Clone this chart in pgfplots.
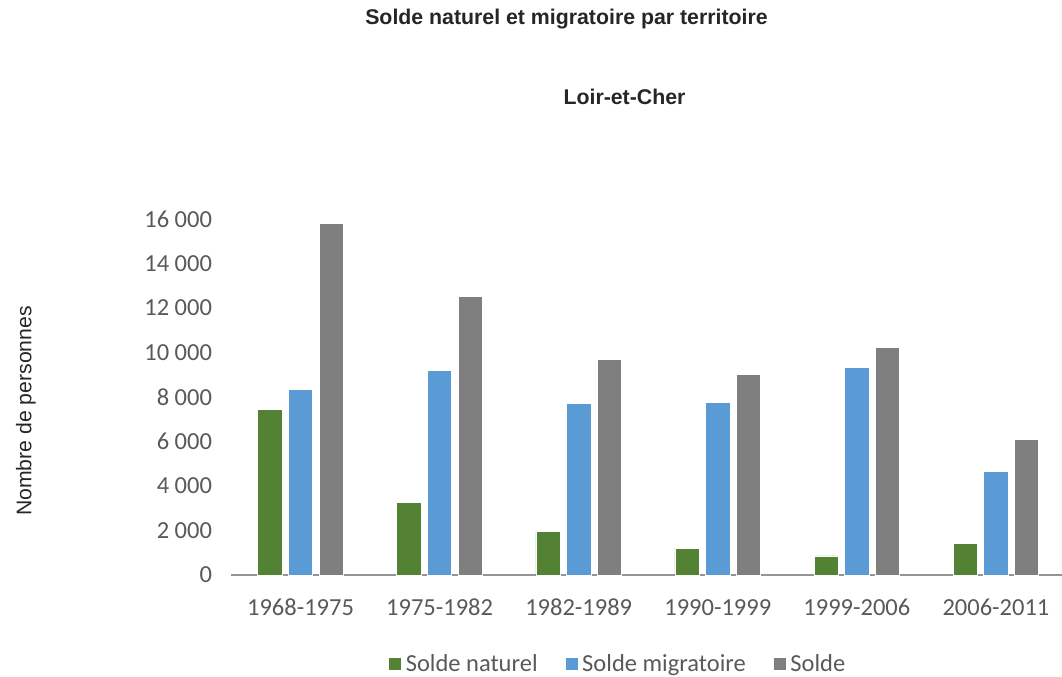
\documentclass[border=0pt]{standalone}
\usepackage{fontspec}
\setmainfont{Carlito}
\newfontfamily\arial{Liberation Sans}
\usepackage{pgfplots}
\pgfplotsset{compat=1.18}
\definecolor{cgreen}{HTML}{548235}
\definecolor{cblue}{HTML}{5B9BD5}
\definecolor{cgray}{HTML}{7F7F7F}
\definecolor{ctext}{HTML}{595959}
\definecolor{caxis}{HTML}{959595}
\definecolor{ctitle}{HTML}{262626}
\begin{document}
\begin{tikzpicture}
\path[use as bounding box] (0,0) rectangle (1062bp,677bp);
\node[font=\arial\bfseries\fontsize{21.3bp}{25bp}\selectfont, text=ctitle, anchor=base, inner sep=0pt] at (566.5bp,652bp) {Solde naturel et migratoire par territoire};
\node[font=\arial\bfseries\fontsize{21.3bp}{25bp}\selectfont, text=ctitle, anchor=base, inner sep=0pt] at (624.5bp,572bp) {Loir-et-Cher};
\node[font=\arial\fontsize{21.2bp}{25bp}\selectfont, text=ctitle, rotate=90, anchor=center] at (26bp,266bp) {Nombre de personnes};
\begin{axis}[
  at={(231bp,102bp)}, anchor=south west,
  scale only axis, width=831bp, height=356bp,
  xmin=-0.5, xmax=5.475, ymin=0, ymax=16000,
  clip=false,
  scaled y ticks=false,
  ybar=6.4bp, bar width=24.3bp,
  axis x line*=bottom, axis y line*=left,
  x axis line style={-, draw=caxis, line width=1.4bp},
  y axis line style={draw=none},
  major tick length=0pt,
  xtick={0,1,2,3,4,5},
  xticklabels={1968-1975,1975-1982,1982-1989,1990-1999,1999-2006,2006-2011},
  ytick={0,2000,4000,6000,8000,10000,12000,14000,16000},
  yticklabels={0,2 000,4 000,6 000,8 000,10 000,12 000,14 000,16 000},
  tick label style={font=\fontsize{24.5bp}{28bp}\selectfont, text=ctext},
  xticklabel style={anchor=base, yshift=-40bp},
  yticklabel style={anchor=east, xshift=-15.5bp},
  legend columns=3,
  legend style={draw=none, fill=none, at={(0.1889,-0.25)}, anchor=west,
    font=\fontsize{24.5bp}{28bp}\selectfont, text=ctext,
    /tikz/every odd column/.append style={column sep=2bp},
    /tikz/every even column/.append style={column sep=25bp},
    inner sep=0pt, row sep=0pt},
  legend image code/.code={\fill[#1] (0bp,-6.5bp) rectangle (13bp,6.5bp);},
]
\addplot[fill=cgreen, draw=white, line width=0.6bp] coordinates {(0,7430) (1,3266) (2,1948) (3,1213) (4,854) (5,1423)};
\addplot[fill=cblue, draw=white, line width=0.6bp] coordinates {(0,8330) (1,9200) (2,7715) (3,7760) (4,9348) (5,4644)};
\addplot[fill=cgray, draw=white, line width=0.6bp] coordinates {(0,15790) (1,12525) (2,9693) (3,9019) (4,10247) (5,6082)};
\legend{Solde naturel, Solde migratoire, Solde}
\end{axis}
\end{tikzpicture}
\end{document}
